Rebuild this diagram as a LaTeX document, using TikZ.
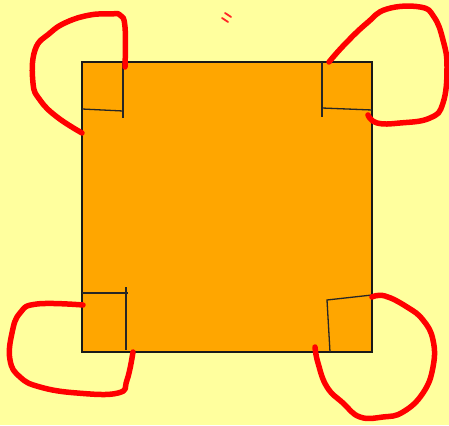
\documentclass[tikz,border=0pt]{standalone}
\begin{document}
\begin{tikzpicture}[x=1pt,y=-1pt,
  loopline/.style={draw=red,line width=5.5pt,line cap=round,line join=round},
  anglemark/.style={draw=black!85,line width=1.3pt},
  tick/.style={draw=red!85!white,line width=1.8pt,line cap=round}]
\fill[fill={rgb,255:red,255;green,255;blue,158}] (0,0) rectangle (449,425);
\useasboundingbox (0,0) rectangle (449,425);
% square
\draw[fill={rgb,255:red,255;green,166;blue,0},draw=black!90,line width=1.4pt] (82,62) rectangle (372,352);
% right-angle marks
\draw[anglemark] (82,109) -- (123,111);
\draw[anglemark] (123,62) -- (123,118);
\draw[anglemark] (322,62) -- (322,117);
\draw[anglemark] (322,108) -- (372,110);
\draw[anglemark] (82,293) -- (128,293);
\draw[anglemark] (126,287) -- (126,350);
\draw[anglemark] (372,295) -- (327,300) -- (330,352);
% red loops
\draw[loopline] plot[smooth,tension=0.75] coordinates {(125,67) (125,27) (120,15) (110,14) (90,15) (67,22) (50,33) (35,50) (33,83) (40,100) (57,117) (82,133)};
\draw[loopline] plot[smooth,tension=0.75] coordinates {(329,62) (345,44) (367,23) (387,9) (420,7) (434,17) (443,40) (447,67) (443,103) (430,118) (400,123) (377,123) (368,115)};
\draw[loopline] plot[smooth,tension=0.75] coordinates {(83,305) (37,304) (20,313) (12,333) (10,360) (20,377) (40,387) (77,393) (118,393) (127,380) (133,352)};
\draw[loopline] plot[smooth,tension=0.75] coordinates {(372,297) (385,296) (407,307) (423,320) (433,340) (433,367) (423,393) (403,412) (383,417) (360,417) (343,403) (327,387) (318,363) (315,347)};
% small tick mark
\draw[tick] (225,13) -- (231,17);
\draw[tick] (222,18) -- (228,22);
\end{tikzpicture}
\end{document}
